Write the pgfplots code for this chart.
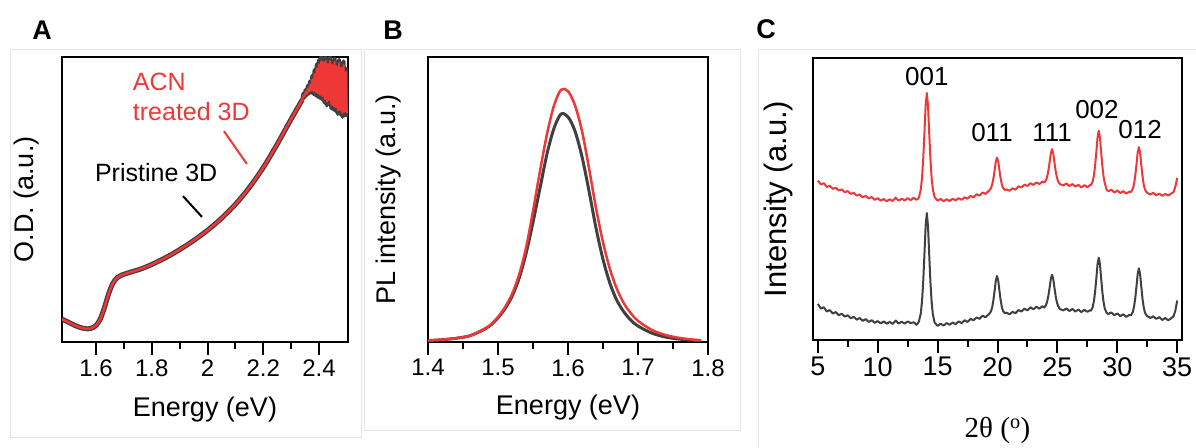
\documentclass[border=0pt]{standalone}
\usepackage{pgfplots}
\pgfplotsset{compat=1.18}
\usepackage{fontspec}
\setmainfont{Liberation Sans}
\newfontfamily\seriffont{Liberation Serif}
\definecolor{myred}{RGB}{240,55,55}
\definecolor{mygray}{RGB}{64,64,64}
\definecolor{framegray}{RGB}{228,228,228}
\newcommand{\fs}[1]{\fontsize{#1}{#1}\selectfont}

\pgfplotsset{
  panel/.style={
    scale only axis,
    line width=2pt,
    every tick/.style={black, line width=2pt},
    tick align=outside,
    major tick length=13pt,
    minor tick length=7pt,
    xtick pos=left,
    ytick=\empty,
    minor x tick num=1,
    ymin=0, ymax=1,
    /pgf/number format/assume math mode=true,
    tick label style={font=\fs{24}},
    label style={font=\fs{27}},
  }
}

\begin{document}
\begin{tikzpicture}[x=1pt,y=1pt]
\useasboundingbox (0,0) rectangle (1196,447);
% light panel frames
\draw[framegray, line width=1pt] (10,10) rectangle (361,397);
\draw[framegray, line width=1pt] (364,17) rectangle (740,397);
\draw[framegray, line width=1pt] (758,-2) -- (758,397) -- (1198,397);
% panel letters
\node[font=\fs{27}\bfseries] at (42,417) {A};
\node[font=\fs{27}\bfseries] at (393,417) {B};
\node[font=\fs{27}\bfseries] at (766,418) {C};

% ---------------- Panel A ----------------
\begin{axis}[panel,
  at={(62pt,105pt)}, anchor=south west,
  width=286pt, height=285pt,
  xmin=1.478, xmax=2.504,
  xtick={1.6,1.8,2,2.2,2.4},
  xlabel={Energy (eV)}, ylabel={O.D. (a.u.)},
  xlabel style={at={([yshift=-68pt]axis description cs:0.5,0)}, anchor=center},
  ylabel style={at={([xshift=-35pt]axis description cs:0,0.5)}, anchor=center},
]
\addplot[mygray, line width=5pt, smooth, line join=round] table {
1.478 0.080
1.50 0.070
1.52 0.060
1.54 0.052
1.56 0.047
1.58 0.047
1.60 0.058
1.615 0.080
1.63 0.120
1.645 0.168
1.66 0.205
1.675 0.225
1.69 0.234
1.72 0.244
1.76 0.256
1.80 0.272
1.85 0.296
1.90 0.324
1.95 0.356
2.00 0.392
2.05 0.434
2.10 0.483
2.15 0.542
2.20 0.612
2.25 0.694
2.30 0.782
2.34 0.850
};
\addplot[mygray, line width=4pt, line join=round] table {
2.340 0.850
2.344 0.872
2.348 0.858
2.352 0.885
2.356 0.866
2.360 0.900
2.364 0.872
2.368 0.915
2.372 0.875
2.376 0.935
2.380 0.870
2.384 0.955
2.388 0.865
2.392 0.975
2.396 0.860
2.400 0.990
2.404 0.855
2.408 1.000
2.412 0.850
2.416 0.995
2.420 0.840
2.424 1.000
2.428 0.830
2.432 0.990
2.436 0.835
2.440 1.000
2.444 0.820
2.448 0.985
2.452 0.815
2.456 0.995
2.460 0.810
2.464 0.980
2.468 0.800
2.472 0.990
2.476 0.800
2.480 0.975
2.484 0.790
2.488 0.985
2.492 0.795
2.496 0.960
2.500 0.790
};
\addplot[myred, line width=2.5pt, smooth, line join=round] table {
1.478 0.080
1.50 0.070
1.52 0.060
1.54 0.052
1.56 0.047
1.58 0.047
1.60 0.058
1.615 0.080
1.63 0.120
1.645 0.168
1.66 0.205
1.675 0.225
1.69 0.234
1.72 0.244
1.76 0.256
1.80 0.272
1.85 0.296
1.90 0.324
1.95 0.356
2.00 0.392
2.05 0.434
2.10 0.483
2.15 0.542
2.20 0.612
2.25 0.694
2.30 0.782
2.34 0.850
};
\addplot[myred, line width=2pt, line join=round] table {
2.340 0.850
2.344 0.866
2.348 0.862
2.352 0.877
2.356 0.870
2.360 0.890
2.364 0.878
2.368 0.903
2.372 0.882
2.376 0.922
2.380 0.880
2.384 0.940
2.388 0.876
2.392 0.960
2.396 0.872
2.400 0.975
2.404 0.867
2.408 0.985
2.412 0.862
2.416 0.982
2.420 0.852
2.424 0.986
2.428 0.843
2.432 0.976
2.436 0.848
2.440 0.986
2.444 0.833
2.448 0.972
2.452 0.828
2.456 0.982
2.460 0.823
2.464 0.967
2.468 0.813
2.472 0.977
2.476 0.813
2.480 0.962
2.484 0.803
2.488 0.972
2.492 0.808
2.496 0.948
2.500 0.803
};
\node[myred, anchor=west, inner sep=0pt, font=\fs{25}] at (axis cs:1.729,0.912) {ACN};
\node[myred, anchor=west, inner sep=0pt, font=\fs{25}] at (axis cs:1.729,0.807) {treated 3D};
\node[black, anchor=west, inner sep=0pt, font=\fs{25}] at (axis cs:1.593,0.596) {Pristine 3D};
\draw[myred, line width=2pt] (axis cs:2.059,0.740) -- (axis cs:2.141,0.625);
\draw[black, line width=2pt] (axis cs:1.912,0.512) -- (axis cs:1.980,0.439);
\end{axis}

% ---------------- Panel B ----------------
\begin{axis}[panel,
  at={(428pt,105pt)}, anchor=south west,
  width=280pt, height=285pt,
  xmin=1.4, xmax=1.8,
  xtick={1.4,1.5,1.6,1.7,1.8},
  /pgf/number format/.cd, fixed, precision=1, fixed zerofill, /pgfplots/.cd,
  xlabel={Energy (eV)}, ylabel={PL intensity (a.u.)},
  xlabel style={at={([yshift=-66pt]axis description cs:0.5,0)}, anchor=center},
  ylabel style={at={([xshift=-39pt]axis description cs:0,0.5)}, anchor=center},
]
\addplot[mygray, line width=3pt, smooth, line join=round] table {
1.40 0.005
1.42 0.008
1.44 0.013
1.46 0.022
1.48 0.044
1.49 0.060
1.50 0.085
1.51 0.117
1.52 0.160
1.53 0.222
1.54 0.31
1.55 0.42
1.56 0.54
1.57 0.66
1.58 0.75
1.59 0.80
1.60 0.79
1.61 0.74
1.62 0.65
1.63 0.53
1.64 0.40
1.65 0.29
1.66 0.205
1.67 0.145
1.68 0.105
1.69 0.076
1.70 0.056
1.72 0.031
1.74 0.017
1.76 0.010
1.78 0.006
1.79 0.005
};
\addplot[myred, line width=2.5pt, smooth, line join=round] table {
1.40 0.005
1.42 0.008
1.44 0.013
1.46 0.022
1.48 0.045
1.49 0.062
1.50 0.088
1.51 0.122
1.52 0.168
1.53 0.235
1.54 0.33
1.55 0.46
1.56 0.60
1.57 0.73
1.58 0.83
1.59 0.885
1.60 0.88
1.61 0.83
1.62 0.74
1.63 0.61
1.64 0.47
1.65 0.35
1.66 0.255
1.67 0.185
1.68 0.135
1.69 0.10
1.70 0.074
1.72 0.042
1.74 0.024
1.76 0.014
1.78 0.008
1.79 0.006
};
\end{axis}

% ---------------- Panel C ----------------
\begin{axis}[panel,
  at={(813pt,107pt)}, anchor=south west,
  width=369pt, height=282pt,
  xmin=4.6, xmax=35.4,
  xtick={5,10,15,20,25,30,35},
  tick label style={font=\fs{27}},
  xlabel={\seriffont 2θ (\textsuperscript{o})}, ylabel={Intensity (a.u.)},
  xlabel style={font=\fs{29}, at={([yshift=-90pt]axis description cs:0.5,0)}, anchor=center},
  ylabel style={font=\fs{31}, at={([xshift=-35pt]axis description cs:0,0.5)}, anchor=center},
]
\addplot[myred, line width=2pt, line join=round] table {
5.00 0.565
5.25 0.552
5.50 0.556
5.75 0.543
6.00 0.547
6.25 0.536
6.50 0.540
6.75 0.530
7.00 0.534
7.25 0.524
7.50 0.528
7.75 0.518
8.00 0.522
8.25 0.512
8.50 0.516
8.75 0.506
9.00 0.511
9.25 0.502
9.50 0.507
9.75 0.497
10.00 0.503
10.25 0.494
10.50 0.500
10.75 0.492
11.00 0.499
11.25 0.493
11.50 0.505
11.75 0.494
12.00 0.501
12.25 0.495
12.50 0.503
12.75 0.496
13.00 0.504
13.25 0.497
13.40 0.502
13.45 0.507
13.60 0.534
13.70 0.575
13.80 0.643
13.90 0.733
14.00 0.831
14.10 0.876
14.20 0.831
14.30 0.733
14.40 0.643
14.50 0.575
14.60 0.534
14.75 0.507
15.00 0.494
15.25 0.500
15.50 0.492
15.75 0.499
16.00 0.493
16.25 0.501
16.50 0.495
16.75 0.503
17.00 0.497
17.25 0.506
17.50 0.501
17.75 0.511
18.00 0.506
18.25 0.517
18.50 0.512
18.75 0.523
19.00 0.518
19.25 0.528
19.31 0.530
19.46 0.539
19.56 0.552
19.66 0.573
19.76 0.602
19.86 0.633
19.96 0.647
20.06 0.633
20.16 0.602
20.26 0.573
20.36 0.552
20.46 0.539
20.61 0.532
20.75 0.534
21.00 0.529
21.25 0.538
21.50 0.533
21.75 0.545
22.00 0.541
22.25 0.551
22.50 0.546
22.75 0.556
23.00 0.550
23.25 0.559
23.50 0.553
23.75 0.562
23.90 0.558
24.05 0.567
24.15 0.580
24.25 0.602
24.35 0.631
24.45 0.662
24.55 0.677
24.65 0.662
24.75 0.631
24.85 0.600
24.95 0.578
25.05 0.563
25.20 0.553
25.50 0.548
25.75 0.555
26.00 0.546
26.25 0.553
26.50 0.544
26.75 0.550
27.00 0.541
27.25 0.549
27.50 0.542
27.75 0.550
27.80 0.549
27.95 0.563
28.05 0.584
28.15 0.620
28.25 0.667
28.35 0.718
28.45 0.742
28.55 0.718
28.65 0.667
28.75 0.618
28.85 0.580
28.95 0.557
29.10 0.533
29.25 0.528
29.50 0.533
29.75 0.523
30.00 0.530
30.25 0.521
30.50 0.528
30.75 0.519
31.00 0.526
31.15 0.525
31.30 0.537
31.40 0.554
31.50 0.584
31.60 0.622
31.70 0.665
31.80 0.684
31.90 0.665
32.00 0.622
32.10 0.582
32.20 0.552
32.30 0.535
32.45 0.523
32.75 0.516
33.00 0.522
33.25 0.513
33.50 0.519
33.75 0.511
34.00 0.518
34.25 0.512
34.50 0.519
34.70 0.525
34.85 0.545
35.00 0.575
};
\addplot[mygray, line width=2pt, line join=round] table {
5.00 0.128
5.25 0.112
5.50 0.116
5.75 0.101
6.00 0.106
6.25 0.094
6.50 0.099
6.75 0.088
7.00 0.093
7.25 0.083
7.50 0.088
7.75 0.077
8.00 0.082
8.25 0.072
8.50 0.078
8.75 0.068
9.00 0.074
9.25 0.064
9.50 0.070
9.75 0.061
10.00 0.067
10.25 0.059
10.50 0.066
10.75 0.058
11.00 0.064
11.25 0.057
11.50 0.069
11.75 0.058
12.00 0.065
12.25 0.058
12.50 0.066
12.75 0.060
13.00 0.063
13.25 0.054
13.40 0.062
13.45 0.068
13.60 0.095
13.70 0.138
13.80 0.208
13.90 0.302
14.00 0.403
14.10 0.450
14.20 0.403
14.30 0.302
14.40 0.206
14.50 0.136
14.60 0.092
14.75 0.062
15.00 0.050
15.25 0.058
15.50 0.051
15.75 0.060
16.00 0.054
16.25 0.062
16.50 0.056
16.75 0.066
17.00 0.060
17.25 0.070
17.50 0.064
17.75 0.075
18.00 0.070
18.25 0.080
18.50 0.075
18.75 0.086
19.00 0.081
19.25 0.090
19.31 0.093
19.46 0.102
19.56 0.117
19.66 0.142
19.76 0.175
19.86 0.211
19.96 0.227
20.06 0.211
20.16 0.175
20.26 0.142
20.36 0.117
20.46 0.103
20.61 0.095
20.75 0.097
21.00 0.091
21.25 0.100
21.50 0.095
21.75 0.106
22.00 0.101
22.25 0.111
22.50 0.105
22.75 0.116
23.00 0.109
23.25 0.118
23.50 0.111
23.75 0.120
23.90 0.115
24.05 0.124
24.15 0.137
24.25 0.158
24.35 0.186
24.45 0.217
24.55 0.231
24.65 0.217
24.75 0.186
24.85 0.157
24.95 0.135
25.05 0.121
25.20 0.110
25.50 0.105
25.75 0.112
26.00 0.103
26.25 0.110
26.50 0.101
26.75 0.108
27.00 0.099
27.25 0.107
27.50 0.100
27.75 0.106
27.80 0.104
27.95 0.117
28.05 0.138
28.15 0.173
28.25 0.219
28.35 0.269
28.45 0.292
28.55 0.269
28.65 0.219
28.75 0.171
28.85 0.135
28.95 0.112
29.10 0.097
29.25 0.092
29.50 0.098
29.75 0.088
30.00 0.094
30.25 0.085
30.50 0.091
30.75 0.082
31.00 0.089
31.15 0.088
31.30 0.100
31.40 0.119
31.50 0.149
31.60 0.190
31.70 0.234
31.80 0.254
31.90 0.234
32.00 0.190
32.10 0.147
32.20 0.117
32.30 0.098
32.45 0.086
32.75 0.078
33.00 0.084
33.25 0.075
33.50 0.081
33.75 0.071
34.00 0.078
34.25 0.070
34.50 0.077
34.70 0.085
34.85 0.105
35.00 0.140
};
\node[font=\fs{26}] at (axis cs:14.1,0.933) {001};
\node[font=\fs{26}] at (axis cs:19.54,0.734) {011};
\node[font=\fs{26}] at (axis cs:24.55,0.734) {111};
\node[font=\fs{26}] at (axis cs:28.3,0.816) {002};
\node[font=\fs{26}] at (axis cs:31.9,0.745) {012};
\end{axis}
\end{tikzpicture}
\end{document}
